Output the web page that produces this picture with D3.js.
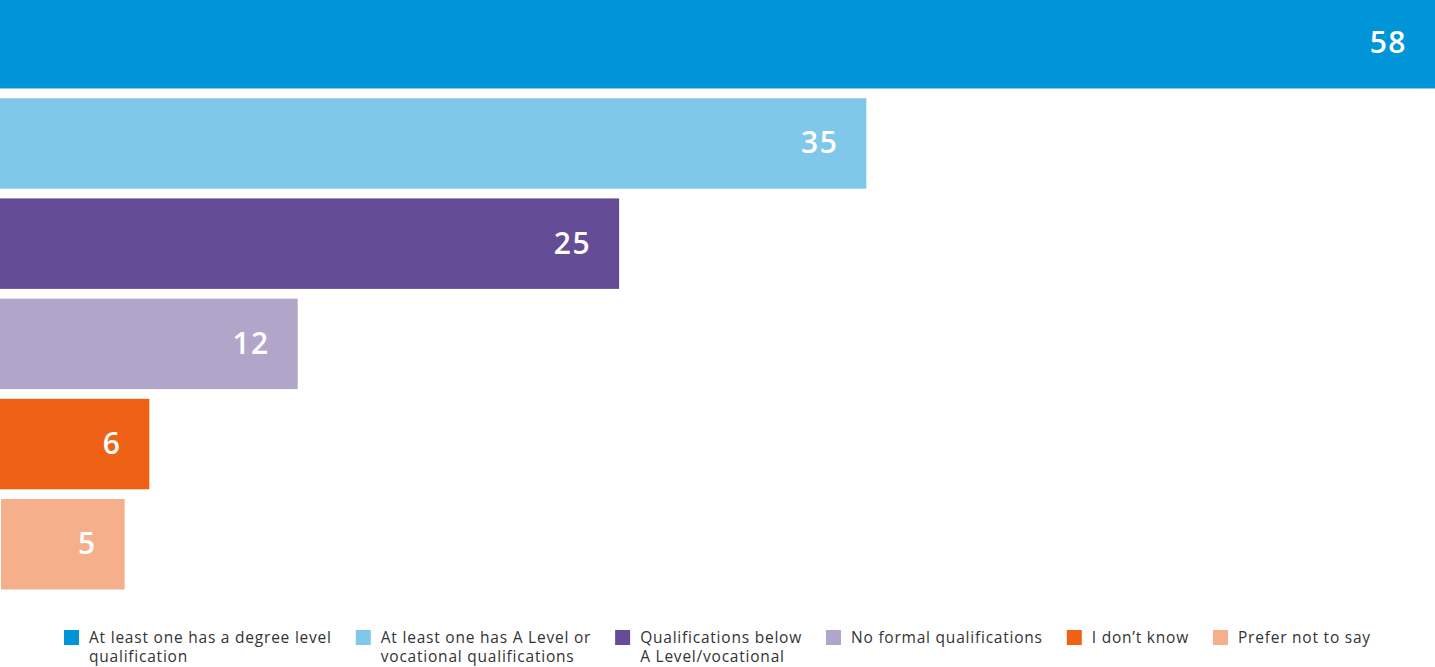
<!DOCTYPE html>
<html>
<head>
<meta charset="utf-8">
<script src="https://cdn.jsdelivr.net/npm/d3@7"></script>
<style>
	html, body { margin: 0; padding: 0; background: #ffffff; }
	svg { display: block; }
</style>
</head>
<body>
<div id="chart"></div>
<script>
// chart data
var categories = [
	"At least one has a degree level qualification",
	"At least one has A Level or vocational qualifications",
	"Qualifications below A Level/vocational",
	"No formal qualifications",
	"I don\u2019t know",
	"Prefer not to say"
];
var values = [58, 35, 25, 12, 6, 5];
var colors = ["#0094d9", "#80c8ea", "#654c96", "#b1a5ca", "#ef6115", "#f5b08b"];
// legend labels as they wrap in the picture
var legendLines = [
	["At least one has a degree level", "qualification"],
	["At least one has A Level or", "vocational qualifications"],
	["Qualifications below", "A Level/vocational"],
	["No formal qualifications"],
	["I don\u2019t know"],
	["Prefer not to say"]
];

var width = 1435,
    height = 667;

var svg = d3.select("#chart").append("svg")
	.attr("width", width)
	.attr("height", height);

var x = d3.scaleLinear()
	.domain([0, 58])
	.range([1, width]);

var y = d3.scaleBand()
	.domain(categories)
	.range([-2, 589.5])
	.paddingInner(0.097)
	.paddingOuter(0);

// bars
svg.selectAll("rect.bar")
	.data(values)
	.enter().append("rect")
	.attr("class", "bar")
	.attr("x", function(d, i) { return i === 5 ? x(0) : 0; })
	.attr("y", function(d, i) { return y(categories[i]); })
	.attr("width", function(d, i) { return x(d) - (i === 5 ? x(0) : 0); })
	.attr("height", y.bandwidth())
	.attr("fill", function(d, i) { return colors[i]; });

// value labels inside the bars
svg.selectAll("text.value")
	.data(values)
	.enter().append("text")
	.attr("class", "value")
	.attr("x", function(d) { return x(d) - 28; })
	.attr("y", function(d, i) { return y(categories[i]) + y.bandwidth() / 2 + 10; })
	.attr("text-anchor", "end")
	.attr("fill", "#ffffff")
	.style("font-family", "'Open Sans', sans-serif")
	.style("font-size", "30px")
	.style("font-weight", "600")
	.style("letter-spacing", "1.5px")
	.text(function(d) { return d; });

// legend, flowed left to right and centred
var legend = svg.append("g").attr("class", "legend");
var boxSize = 15,
    boxGap = 10,
    itemGap = 24,
    lineHeight = 19;

var items = legend.selectAll("g.item")
	.data(categories)
	.enter().append("g")
	.attr("class", "item");

items.append("rect")
	.attr("x", 0)
	.attr("y", 630)
	.attr("width", boxSize)
	.attr("height", boxSize)
	.attr("fill", function(d, i) { return colors[i]; });

items.append("text")
	.attr("x", boxSize + boxGap)
	.attr("y", 643)
	.attr("fill", "#333333")
	.style("font-family", "'Open Sans', sans-serif")
	.style("font-size", "15.5px")
	.style("letter-spacing", "0.78px")
	.each(function(d, i) {
		var t = d3.select(this);
		legendLines[i].forEach(function(line, j) {
			t.append("tspan")
				.attr("x", boxSize + boxGap)
				.attr("dy", j === 0 ? 0 : lineHeight)
				.text(line);
		});
	});

var offset = 0;
items.each(function() {
	var w = this.getBBox().width;
	d3.select(this).attr("transform", "translate(" + offset + ",0)");
	offset += w + itemGap;
});
offset -= itemGap;
legend.attr("transform", "translate(" + Math.round((width - offset) / 2) + ",0)");
</script>
</body>
</html>
